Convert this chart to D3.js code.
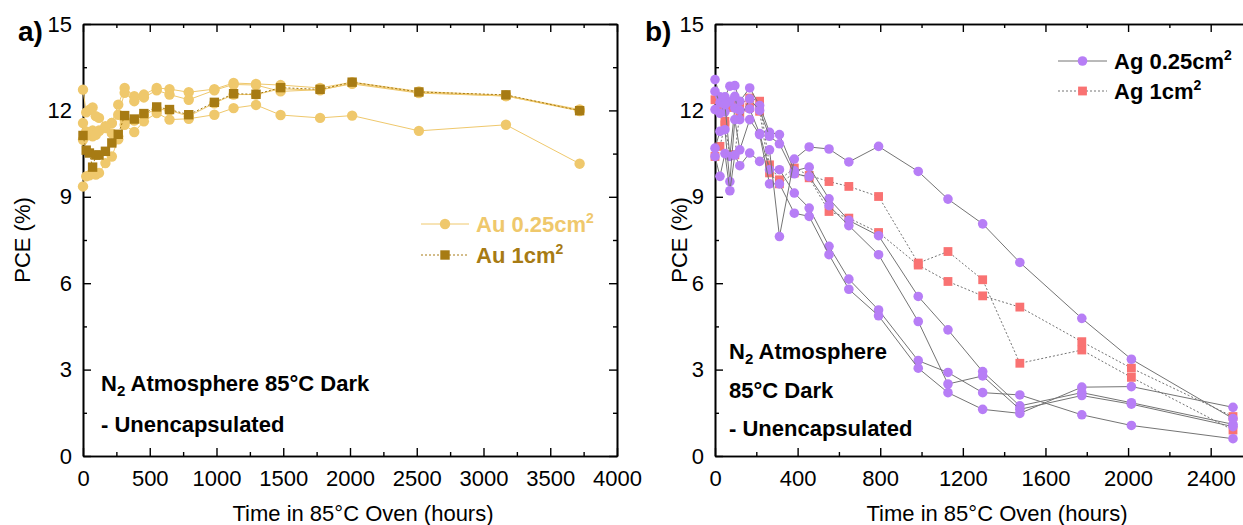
<!DOCTYPE html>
<html>
<head>
<meta charset="utf-8">
<script src="https://cdn.jsdelivr.net/npm/d3@7"></script>
<style>
  body { margin: 0; background: #fff; }
  svg { display: block; }
  text { font-family: "Liberation Sans", Arial, sans-serif; }
</style>
</head>
<body>
<svg id="chart" width="1243" height="525"></svg>
<script>
// ---------- Panel a: Au electrodes ----------
const auTime = [0, 24, 48, 72, 96, 120, 168, 216, 264, 312, 384, 456, 552, 648, 792, 984, 1128, 1296, 1480, 1776, 2016, 2516, 3168, 3720];
const auSmall1 = [12.72, 11.93, 12.02, 12.1, 11.8, 11.74, 11.45, 11.56, 12.2, 12.78, 12.49, 12.55, 12.78, 12.74, 12.63, 12.74, 12.95, 12.92, 12.88, 12.78, 12.98, 12.66, 12.52, 12.03];
const auSmall2 = [11.56, 11.27, 11.15, 11.1, 11.22, 11.28, 11.39, 11.56, 11.85, 12.61, 12.32, 12.45, 12.7, 12.55, 12.37, 12.7, 12.9, 12.88, 12.66, 12.72, 12.92, 12.6, 12.5, 12.0];
const auSmall3 = [10.98, 11.12, 11.2, 11.3, 11.15, 11.3, 11.42, 11.2, 11.1, 11.5, 11.25, 11.62, 11.91, 11.68, 11.71, 11.85, 12.08, 12.19, 11.84, 11.74, 11.82, 11.29, 11.5, 10.15];
const auSmall4 = [9.36, 9.71, 9.75, 9.8, 9.77, 9.83, 10.17, 10.4, 11.0, 11.68, 11.65, 11.85, 12.05, 12.0, 11.8, 12.25, 12.55, 12.55, 12.75, 12.7, 12.95, 12.62, 12.5, 11.98];
const auLarge1 = [11.13, 10.62, 10.52, 10.03, 10.45, 10.45, 10.58, 10.87, 11.17, 11.82, 11.70, 11.89, 12.12, 12.03, 11.85, 12.28, 12.58, 12.56, 12.79, 12.73, 12.98, 12.64, 12.54, 11.99];

// ---------- Panel b: Ag electrodes ----------
const agTime = [0, 24, 48, 72, 96, 120, 168, 216, 264, 312, 384, 456, 552, 648, 792, 984, 1128, 1296, 1476, 1776, 2016, 2508];
const agSmall1 = [13.07, 12.47, 12.47, 12.84, 12.86, 12.32, 12.78, 12.17, 11.24, 11.16, 9.9, 10.03, 8.93, 8.18, 7.65, 5.54, 4.38, 2.93, 1.74, 2.2, 1.85, 1.1];
const agSmall2 = [12.66, 12.26, 11.95, 12.3, 12.49, 11.68, 12.40, 12.0, 11.1, 10.84, 9.8, 9.7, 8.69, 8.0, 6.99, 4.67, 2.5, 2.78, 1.62, 2.1, 1.8, 1.02];
const agSmall3 = [12.03, 11.9, 12.2, 10.4, 12.08, 12.0, 12.05, 11.2, 9.94, 9.94, 9.13, 8.61, 7.28, 6.14, 5.07, 3.31, 2.9, 2.2, 2.12, 1.43, 1.06, 0.6];
const agSmall4 = [10.69, 11.27, 11.33, 9.53, 11.68, 10.63, 11.68, 11.16, 9.45, 9.45, 8.43, 8.32, 6.99, 5.79, 4.87, 3.05, 2.2, 1.62, 1.48, 2.39, 2.41, 1.69];
const agSmall5 = [10.40, 9.71, 10.5, 9.21, 10.45, 10.08, 10.52, 10.23, 10.63, 7.62, 10.31, 10.73, 10.66, 10.21, 10.75, 9.88, 8.92, 8.06, 6.72, 4.78, 3.36, 1.3];
const agLarge1 = [12.37, 12.0, 11.62, 12.1, 12.3, 12.2, 12.43, 12.32, 10.11, 9.59, 10.0, 9.74, 9.53, 9.36, 9.01, 6.7, 7.1, 6.12, 3.22, 3.68, 2.73, 0.9];
const agLarge2 = [10.4, 10.75, 11.5, 10.46, 10.46, 11.9, 12.1, 11.97, 9.83, 9.45, 9.83, 9.66, 8.49, 8.26, 7.76, 6.63, 6.06, 5.56, 5.17, 3.97, 3.05, 1.37];

// ---------- Axis ticks ----------
const pceTicks = [0, 3, 6, 9, 12, 15];
const pceMinor = [1.5, 4.5, 7.5, 10.5, 13.5];
const auTimeTicks = [0, 500, 1000, 1500, 2000, 2500, 3000, 3500, 4000];
const auTimeMinor = [250, 750, 1250, 1750, 2250, 2750, 3250, 3750];
const agTimeTicks = [0, 400, 800, 1200, 1600, 2000, 2400];
const agTimeMinor = [200, 600, 1000, 1400, 1800, 2200];

const auLight = "#EFC86C";
const auDark = "#A77B14";
const agPurple = "#B77EF6";
const agRed = "#F97272";
const lineGrey = "#747474";

const svg = d3.select("#chart");
const FS = 22;

function drawFrame(x, y, xTicks, xMinor) {
  const [x0, x1] = x.range();
  const [y0, y1] = y.range(); // y0 bottom, y1 top
  const g = svg.append("g");
  const styleAxis = sel => {
    sel.select(".domain").attr("stroke", "#000").attr("stroke-width", 1.6);
    sel.selectAll(".tick line").attr("stroke", "#000").attr("stroke-width", 1.4);
    sel.selectAll("text").attr("font-size", FS).attr("fill", "#000")
      .attr("font-family", "'Liberation Sans', Arial, sans-serif");
  };
  // bottom
  g.append("g").attr("transform", `translate(0,${y0})`)
    .call(d3.axisBottom(x).tickValues(xTicks).tickSizeInner(-8).tickSizeOuter(0).tickPadding(14).tickFormat(d3.format("d")))
    .call(styleAxis);
  g.append("g").attr("transform", `translate(0,${y0})`)
    .call(d3.axisBottom(x).tickValues(xMinor).tickSizeInner(-4).tickSizeOuter(0).tickFormat(""))
    .call(styleAxis);
  // top
  g.append("g").attr("transform", `translate(0,${y1})`)
    .call(d3.axisTop(x).tickValues(xTicks).tickSizeInner(-8).tickSizeOuter(0).tickFormat(""))
    .call(styleAxis);
  g.append("g").attr("transform", `translate(0,${y1})`)
    .call(d3.axisTop(x).tickValues(xMinor).tickSizeInner(-4).tickSizeOuter(0).tickFormat(""))
    .call(styleAxis);
  // left
  g.append("g").attr("transform", `translate(${x0},0)`)
    .call(d3.axisLeft(y).tickValues(pceTicks).tickSizeInner(-8).tickSizeOuter(0).tickPadding(11).tickFormat(d3.format("d")))
    .call(styleAxis);
  g.append("g").attr("transform", `translate(${x0},0)`)
    .call(d3.axisLeft(y).tickValues(pceMinor).tickSizeInner(-4).tickSizeOuter(0).tickFormat(""))
    .call(styleAxis);
  // right
  g.append("g").attr("transform", `translate(${x1},0)`)
    .call(d3.axisRight(y).tickValues(pceTicks).tickSizeInner(-8).tickSizeOuter(0).tickFormat(""))
    .call(styleAxis);
  g.append("g").attr("transform", `translate(${x1},0)`)
    .call(d3.axisRight(y).tickValues(pceMinor).tickSizeInner(-4).tickSizeOuter(0).tickFormat(""))
    .call(styleAxis);
}

function drawSeries(x, y, times, values, opt) {
  const pts = times.map((t, i) => [t, values[i]]);
  const line = d3.line().x(d => x(d[0])).y(d => y(d[1]));
  svg.append("path").datum(pts)
    .attr("d", line)
    .attr("fill", "none")
    .attr("stroke", opt.stroke)
    .attr("stroke-width", 1)
    .attr("stroke-dasharray", opt.dash || null);
  const g = svg.append("g");
  if (opt.shape === "circle") {
    g.selectAll("circle").data(pts).join("circle")
      .attr("cx", d => x(d[0])).attr("cy", d => y(d[1]))
      .attr("r", opt.size).attr("fill", opt.fill);
  } else {
    g.selectAll("rect").data(pts).join("rect")
      .attr("x", d => x(d[0]) - opt.size).attr("y", d => y(d[1]) - opt.size)
      .attr("width", opt.size * 2).attr("height", opt.size * 2).attr("fill", opt.fill);
  }
}

function legendRow(x0, x1, y, opt, label, color) {
  svg.append("line").attr("x1", x0).attr("x2", x1).attr("y1", y).attr("y2", y)
    .attr("stroke", opt.stroke).attr("stroke-width", 1).attr("stroke-dasharray", opt.dash || null);
  const cx = (x0 + x1) / 2;
  if (opt.shape === "circle") {
    svg.append("circle").attr("cx", cx).attr("cy", y).attr("r", opt.size).attr("fill", opt.fill);
  } else {
    svg.append("rect").attr("x", cx - opt.size).attr("y", y - opt.size)
      .attr("width", opt.size * 2).attr("height", opt.size * 2).attr("fill", opt.fill);
  }
  const t = svg.append("text").attr("x", x1 + 7).attr("y", y + 8)
    .attr("font-size", FS).attr("font-weight", "bold").attr("fill", color);
  t.append("tspan").text(label + "cm");
  t.append("tspan").attr("font-size", 14).attr("dy", -9).text("2");
}

function annotation(x, lines) {
  lines.forEach(([y, parts]) => {
    const t = svg.append("text").attr("x", x).attr("y", y)
      .attr("font-size", FS).attr("font-weight", "bold").attr("fill", "#000");
    parts.forEach(p => {
      if (p === "sub") t.append("tspan").attr("font-size", 15).attr("dy", 5).text("2");
      else if (p.startsWith("^")) t.append("tspan").attr("dy", -5).text(p.slice(1));
      else t.append("tspan").text(p);
    });
  });
}

// ---------- Panel a ----------
const xA = d3.scaleLinear([0, 4000], [83, 617]);
const yA = d3.scaleLinear([0, 15], [456, 24]);
drawFrame(xA, yA, auTimeTicks, auTimeMinor);

const auSmallOpt = { shape: "circle", size: 5.2, fill: auLight, stroke: auLight };
const auLargeOpt = { shape: "rect", size: 4.7, fill: auDark, stroke: auDark, dash: "2,2" };
[auSmall1, auSmall2, auSmall3, auSmall4].forEach(v => drawSeries(xA, yA, auTime, v, auSmallOpt));
drawSeries(xA, yA, auTime, auLarge1, auLargeOpt);

legendRow(421, 469, 224, auSmallOpt, "Au 0.25", auLight);
legendRow(421, 469, 255, auLargeOpt, "Au 1", auDark);

annotation(101, [
  [391, ["N", "sub", "^ Atmosphere 85°C Dark"]],
  [432, ["- Unencapsulated"]]
]);

svg.append("text").attr("x", 18).attr("y", 41).attr("font-size", 28).attr("font-weight", "bold").text("a)");
svg.append("text").attr("x", 363).attr("y", 521).attr("text-anchor", "middle").attr("font-size", FS)
  .text("Time in 85°C Oven (hours)");
svg.append("text").attr("transform", "translate(30,240) rotate(-90)").attr("text-anchor", "middle")
  .attr("font-size", FS).text("PCE (%)");

// ---------- Panel b ----------
const xB = d3.scaleLinear([0, 2600], [715, 1252]);
const yB = d3.scaleLinear([0, 15], [456, 24]);
drawFrame(xB, yB, agTimeTicks, agTimeMinor);

const agSmallOpt = { shape: "circle", size: 4.8, fill: agPurple, stroke: lineGrey };
const agLargeOpt = { shape: "rect", size: 4.4, fill: agRed, stroke: lineGrey, dash: "2,2" };
[agLarge1, agLarge2].forEach(v => drawSeries(xB, yB, agTime, v, agLargeOpt));
[agSmall1, agSmall2, agSmall3, agSmall4, agSmall5].forEach(v => drawSeries(xB, yB, agTime, v, agSmallOpt));

legendRow(1058, 1107, 61, agSmallOpt, "Ag 0.25", "#000");
legendRow(1058, 1107, 91, agLargeOpt, "Ag 1", "#000");

annotation(729, [
  [359, ["N", "sub", "^ Atmosphere"]],
  [398, ["85°C Dark"]],
  [436, ["- Unencapsulated"]]
]);

svg.append("text").attr("x", 645).attr("y", 41).attr("font-size", 28).attr("font-weight", "bold").text("b)");
svg.append("text").attr("x", 997).attr("y", 521).attr("text-anchor", "middle").attr("font-size", FS)
  .text("Time in 85°C Oven (hours)");
svg.append("text").attr("transform", "translate(687,240) rotate(-90)").attr("text-anchor", "middle")
  .attr("font-size", FS).text("PCE (%)");
</script>
</body>
</html>
